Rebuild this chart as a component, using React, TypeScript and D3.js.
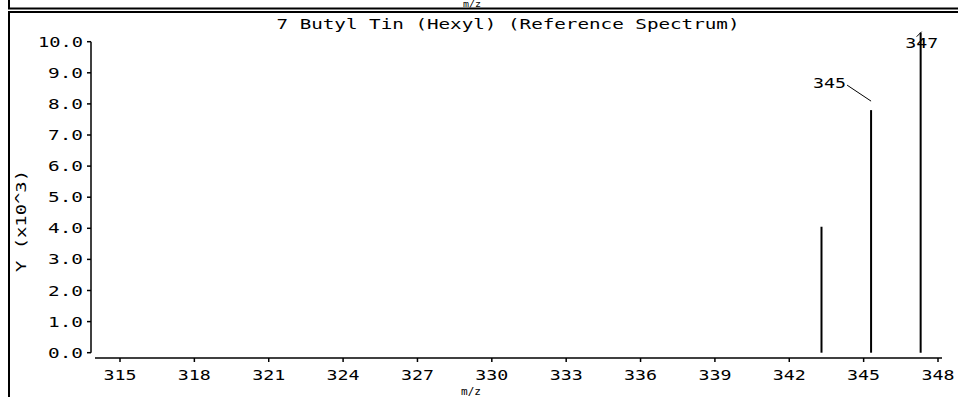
import React from "react";
import * as d3 from "d3";

const title = "7 Butyl Tin (Hexyl) (Reference Spectrum)";
const xTitle = "m/z";
const yTitle = "Y (x10^3)";
const xTicks = [315, 318, 321, 324, 327, 330, 333, 336, 339, 342, 345, 348];
const yTicks = [0, 1, 2, 3, 4, 5, 6, 7, 8, 9, 10];
const peakMz = [343.3, 345.3, 347.3];
const peakIntensity = [4.05, 7.8, 10.29];
const peakLabels = ["", "345", "347"];

const W = 958;
const H = 397;
const FONT = "'DejaVu Sans Mono', 'Liberation Mono', monospace";

export default function App() {
  const x = d3.scaleLinear().domain([315, 348]).range([120, 938]);
  const y = d3.scaleLinear().domain([0, 10]).range([352.7, 41.7]);
  const yAxisX = 91;
  const xAxisY = 358;

  return (
    <div style={{ position: "fixed", left: 0, top: 0, width: W, height: H, background: "#fff" }}>
      <svg width={W} height={H} style={{ display: "block" }} fontFamily={FONT}>
        <rect x={0} y={0} width={W} height={H} fill="#fff" />
        {/* previous panel remnants */}
        <text x={472} y={7} textAnchor="middle" fontSize={9} textLength={18} lengthAdjust="spacingAndGlyphs">{xTitle}</text>
        <line x1={9} y1={0} x2={9} y2={8} stroke="#000" strokeWidth={2} />
        <line x1={8} y1={8.5} x2={W} y2={8.5} stroke="#000" strokeWidth={2} />
        {/* current panel frame */}
        <line x1={8} y1={12} x2={W} y2={12} stroke="#000" strokeWidth={2} />
        <line x1={9} y1={12} x2={9} y2={H} stroke="#000" strokeWidth={2} />

        {/* title */}
        <text x={508} y={29} textAnchor="middle" fontSize={14} textLength={463} lengthAdjust="spacingAndGlyphs">{title}</text>

        {/* y axis */}
        <line x1={yAxisX} y1={y(10)} x2={yAxisX} y2={y(0)} stroke="#000" strokeWidth={1.5} />
        {yTicks.map((t) => (
          <g key={"yt" + t}>
            <line x1={yAxisX - 4} y1={y(t)} x2={yAxisX} y2={y(t)} stroke="#000" strokeWidth={1.5} />
            <text x={83} y={y(t) + 5} textAnchor="end" fontSize={14} textLength={t >= 10 ? 45 : 35} lengthAdjust="spacingAndGlyphs">
              {t.toFixed(1)}
            </text>
          </g>
        ))}
        <text
          transform={`translate(26,221) rotate(-90)`}
          textAnchor="middle"
          fontSize={14}
          textLength={102}
          lengthAdjust="spacingAndGlyphs"
        >
          {yTitle}
        </text>

        {/* x axis */}
        <line x1={95} y1={xAxisY} x2={942} y2={xAxisY} stroke="#000" strokeWidth={1.5} />
        {xTicks.map((t) => (
          <g key={"xt" + t}>
            <line x1={x(t)} y1={xAxisY} x2={x(t)} y2={xAxisY + 4} stroke="#000" strokeWidth={1.5} />
            <text x={x(t)} y={380} textAnchor="middle" fontSize={14} textLength={33} lengthAdjust="spacingAndGlyphs">
              {t}
            </text>
          </g>
        ))}
        <text x={471} y={395} textAnchor="middle" fontSize={11} textLength={20} lengthAdjust="spacingAndGlyphs">{xTitle}</text>

        {/* peaks */}
        {peakMz.map((m, i) => (
          <line key={"p" + i} x1={x(m)} y1={y(0)} x2={x(m)} y2={y(peakIntensity[i])} stroke="#000" strokeWidth={2} />
        ))}
        {/* labels */}
        {peakMz.map((m, i) => {
          const lab = peakLabels[i];
          if (!lab) return null;
          const px = x(m);
          const py = y(peakIntensity[i]);
          if (i === 1) {
            return (
              <g key={"l" + i}>
                <line x1={px - 24} y1={py - 25} x2={px} y2={py - 9} stroke="#000" strokeWidth={1} />
                <text x={px - 25} y={py - 22} textAnchor="end" fontSize={14} textLength={33} lengthAdjust="spacingAndGlyphs">{lab}</text>
              </g>
            );
          }
          return (
            <g key={"l" + i}>
              <line x1={px - 4} y1={py + 4} x2={px + 1} y2={py - 1} stroke="#000" strokeWidth={1} />
              <text x={px + 1} y={py + 15} textAnchor="middle" fontSize={14} textLength={33} lengthAdjust="spacingAndGlyphs">{lab}</text>
            </g>
          );
        })}
      </svg>
    </div>
  );
}
